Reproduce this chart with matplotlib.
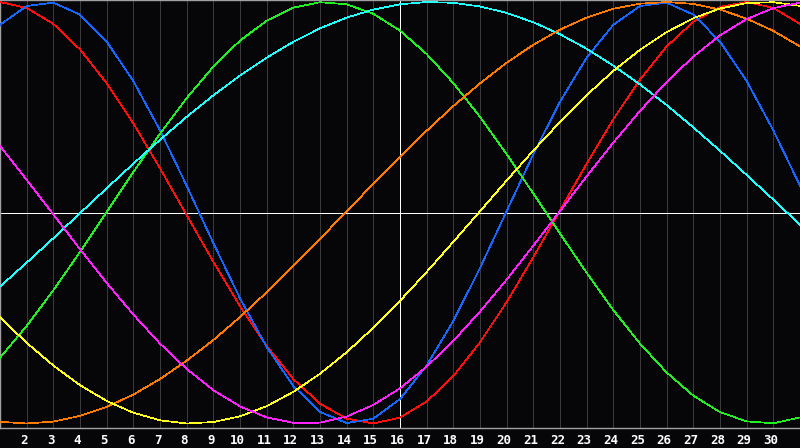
import matplotlib
matplotlib.use("Agg")
import matplotlib.pyplot as plt
from matplotlib.transforms import ScaledTranslation

days = list(range(1, 32))
tick_days = list(range(2, 31))

# values per day (-1 .. 1)
red = [1.000, 0.972, 0.896, 0.775, 0.615, 0.424, 0.211, -0.011, -0.233, -0.444,
       -0.632, -0.789, -0.906, -0.977, -1.000, -0.972, -0.896, -0.775, -0.615, -0.424,
       -0.211, 0.011, 0.233, 0.444, 0.632, 0.789, 0.906, 0.977, 1.000, 0.972, 0.896]
blue = [0.892, 0.981, 0.997, 0.940, 0.812, 0.625, 0.391, 0.128, -0.144, -0.406,
        -0.637, -0.822, -0.945, -0.998, -0.977, -0.884, -0.725, -0.513, -0.262, 0.008,
        0.278, 0.527, 0.736, 0.892, 0.981, 0.997, 0.940, 0.812, 0.625, 0.391, 0.128]
green = [-0.688, -0.537, -0.368, -0.186, 0.004, 0.193, 0.375, 0.544, 0.693, 0.817,
         0.911, 0.973, 0.999, 0.989, 0.944, 0.864, 0.753, 0.615, 0.455, 0.278,
         0.091, -0.099, -0.285, -0.462, -0.621, -0.758, -0.868, -0.946, -0.990, -0.999, -0.971]
cyan = [-0.350, -0.237, -0.121, -0.002, 0.116, 0.233, 0.346, 0.455, 0.557, 0.651,
        0.736, 0.811, 0.875, 0.926, 0.964, 0.989, 1.000, 0.996, 0.979, 0.948,
        0.904, 0.847, 0.778, 0.698, 0.609, 0.511, 0.405, 0.294, 0.179, 0.062, -0.057]
orange = [-0.992, -1.000, -0.991, -0.964, -0.921, -0.863, -0.789, -0.702, -0.604, -0.495,
          -0.377, -0.253, -0.124, 0.007, 0.137, 0.265, 0.389, 0.506, 0.614, 0.712,
          0.797, 0.869, 0.926, 0.968, 0.992, 1.000, 0.991, 0.964, 0.921, 0.863, 0.789]
yellow = [-0.496, -0.617, -0.725, -0.818, -0.893, -0.949, -0.985, -1.000, -0.993, -0.966,
          -0.918, -0.850, -0.764, -0.662, -0.546, -0.418, -0.281, -0.138, 0.007, 0.153,
          0.295, 0.431, 0.558, 0.673, 0.773, 0.857, 0.923, 0.969, 0.995, 0.999, 0.982]
magenta = [0.317, 0.156, -0.008, -0.173, -0.333, -0.483, -0.621, -0.741, -0.842, -0.919,
           -0.971, -0.997, -0.996, -0.967, -0.912, -0.833, -0.730, -0.608, -0.469, -0.317,
           -0.156, 0.008, 0.173, 0.333, 0.483, 0.621, 0.741, 0.842, 0.919, 0.971, 0.997]

series = [red, blue, green, cyan, orange, yellow, magenta]
colors = ['#ff1010', '#1468ff', '#22f022', '#22ffff', '#ff7a00', '#ffff22', '#ff22ff']

bg = '#060609'
fig = plt.figure(figsize=(8, 4.48), dpi=100, facecolor=bg)
ax = fig.add_axes([0, 20 / 448, 1, 428 / 448], facecolor=bg)

# day grid, 1px lines
for d in tick_days:
    ax.axvline(d, color='#3a3a3a', lw=0.5, antialiased=False, zorder=1)
ax.axvline(16, color='white', lw=0.5, antialiased=False, zorder=2)
ax.axhline(0, color='white', lw=0.5, antialiased=False, zorder=2)

for vals, c in zip(series, colors):
    ax.plot(days, vals, color=c, lw=0.5, antialiased=False, zorder=3)

ax.set_xlim(1, 31)
ax.set_ylim(-1.0214, 1.0095)
ax.set_yticks([])
ax.set_xticks(tick_days)
ax.set_xticklabels([str(d) for d in tick_days], color='white',
                   fontfamily='DejaVu Sans Mono', fontweight='bold', fontsize=9)
ax.tick_params(axis='x', length=0, pad=4)
shift = ScaledTranslation(-2.5 / 100, 0, fig.dpi_scale_trans)
for lab in ax.get_xticklabels():
    lab.set_transform(lab.get_transform() + shift)

for s in ['left', 'top', 'bottom']:
    ax.spines[s].set_color('#a0a0a0')
    ax.spines[s].set_linewidth(1.0)
ax.spines['right'].set_visible(False)

fig.savefig('out.png', dpi=100, facecolor=bg)
